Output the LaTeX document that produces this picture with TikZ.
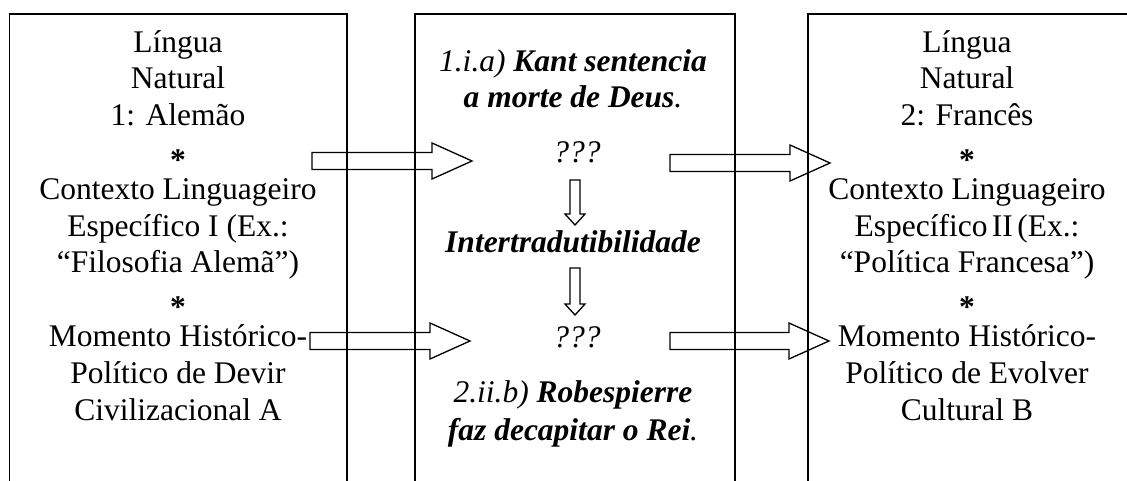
\documentclass[tikz,border=0pt]{standalone}
\usepackage{fontspec}
\setmainfont{Liberation Serif}
\usetikzlibrary{calc}

% hollow block arrows, tail -> tip
\newcommand{\harrow}[2]{\draw[fat] ($(#1)+(0,-8.5)$) -- ($(#2)+(-40,-8.5)$) -- ($(#2)+(-40,-18)$) -- (#2) -- ($(#2)+(-40,18)$) -- ($(#2)+(-40,8.5)$) -- ($(#1)+(0,8.5)$) -- cycle;}
\newcommand{\varrow}[2]{\draw[fat] ($(#1)+(-5,0)$) -- ($(#2)+(-5,-11)$) -- ($(#2)+(-10,-11)$) -- (#2) -- ($(#2)+(10,-11)$) -- ($(#2)+(5,-11)$) -- ($(#1)+(5,0)$) -- cycle;}
\newcommand{\sep}{\raisebox{-0.24em}{\textbf{*}}}

\begin{document}
\begin{tikzpicture}[x=1pt,y=-1pt]
\tikzstyle{box}=[line width=1.4pt, draw=black]
\tikzstyle{fat}=[line width=1.3pt, draw=black, line join=miter]
\tikzstyle{col}=[align=center, inner sep=0pt, font=\fontsize{31.5}{36.8}\selectfont]
\tikzstyle{mid}=[inner sep=0pt, font=\fontsize{31.5}{37}\selectfont\itshape]
\useasboundingbox (0,0) rectangle (1127,481);
\clip (0,0) rectangle (1127,481);
	\draw[box] (9.5,490) -- (9.5,14) -- (347,14) -- (347,490);
	\draw[box] (415,490) -- (415,14) -- (735,14) -- (735,490);
	\draw[box] (808,490) -- (808,14) -- (1140,14);

	\node[col, anchor=north] (lang_1) at (178,30) {Língua\\Natural\\1: Alemão\\\sep\\Contexto Linguageiro\\Específico I (Ex.:\\“Filosofia Alemã”)\\\sep\\Momento Histórico-\\Político de Devir\\Civilizacional A};
	\node[col, anchor=north] (lang_2) at (967,30) {Língua\\Natural\\2: Francês\\\sep\\Contexto Linguageiro\\Específico\hspace{0.14em}II\hspace{0.14em}(Ex.:\\“Política Francesa”)\\\sep\\Momento Histórico-\\Político de Evolver\\Cultural B};

	\node[mid, anchor=base] (kant_a) at (573,72) {1.i.a) \textbf{Kant sentencia}};
	\node[mid, anchor=base] (kant_b) at (573,108) {\textbf{a morte de Deus}.};
	\node[mid, anchor=base] (q_1) at (577,163) {???};
	\node[mid, anchor=base] (inter) at (573,252) {\textbf{Intertradutibilidade}};
	\node[mid, anchor=base] (q_2) at (577,347) {???};
	\node[mid, anchor=base] (robes_a) at (573,402) {2.ii.b) \textbf{Robespierre}};
	\node[mid, anchor=base] (robes_b) at (573,440) {\textbf{faz decapitar o Rei}.};

	\coordinate (a_1) at (312,161); \coordinate (b_1) at (472,161);
	\coordinate (a_2) at (310,341); \coordinate (b_2) at (470,341);
	\coordinate (a_3) at (670,163); \coordinate (b_3) at (830,163);
	\coordinate (a_4) at (670,341); \coordinate (b_4) at (829,341);
	\coordinate (d_1) at (575,180); \coordinate (e_1) at (575,225);
	\coordinate (d_2) at (575,268); \coordinate (e_2) at (575,315);

	\harrow{a_1}{b_1}
	\harrow{a_2}{b_2}
	\harrow{a_3}{b_3}
	\harrow{a_4}{b_4}
	\varrow{d_1}{e_1}
	\varrow{d_2}{e_2}
\end{tikzpicture}
\end{document}
